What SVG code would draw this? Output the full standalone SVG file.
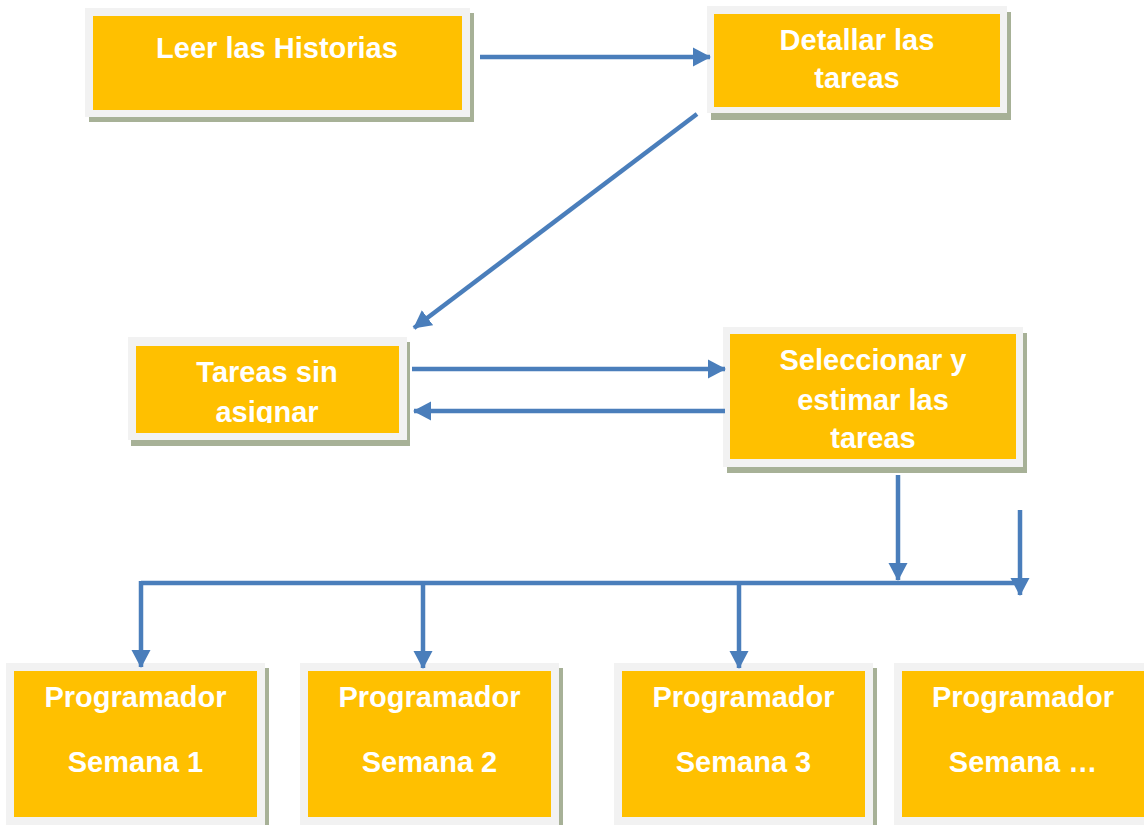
<svg xmlns="http://www.w3.org/2000/svg" width="1144" height="825" viewBox="0 0 1144 825">
<style>
.sh{fill:#A7B197}
.fr{fill:#F2F2F2}
.yl{fill:#FFC000}
.t{font-family:"Liberation Sans",Arial,sans-serif;font-weight:bold;font-size:29px;fill:#FFFFFF;text-anchor:middle}
.c{stroke:#4A7EBB;stroke-width:4.5;fill:none}
</style>
<defs>
<marker id="ah" markerUnits="userSpaceOnUse" markerWidth="20" markerHeight="20" refX="17" refY="10" orient="auto">
<path d="M0,0.5 L18,10 L0,19.5 z" fill="#4A7EBB"/>
</marker>
<clipPath id="clip3"><rect x="128" y="337" width="280" height="86"/></clipPath>
</defs>
<rect width="1144" height="825" fill="#FFFFFF"/>

<g id="leer">
<rect class="sh" x="89" y="13" width="385" height="109"/>
<rect class="fr" x="85" y="8" width="385" height="109"/>
<rect class="yl" x="93" y="16" width="369" height="94"/>
<text class="t" x="277" y="58">Leer las Historias</text>
</g>

<g id="detallar">
<rect class="sh" x="711" y="12" width="300" height="108"/>
<rect class="fr" x="707" y="6" width="300" height="107"/>
<rect class="yl" x="714" y="14" width="286" height="93"/>
<text class="t" x="857" y="50">Detallar las</text>
<text class="t" x="857" y="88">tareas</text>
</g>

<g id="tareas">
<rect class="sh" x="131" y="342" width="279" height="104"/>
<rect class="fr" x="128" y="337" width="279" height="103"/>
<rect class="yl" x="136" y="346" width="263" height="87"/>
<g clip-path="url(#clip3)">
<text class="t" x="267" y="382">Tareas sin</text>
<text class="t" x="267" y="422">asignar</text>
</g>
</g>

<g id="seleccionar">
<rect class="sh" x="727" y="333" width="300" height="140"/>
<rect class="fr" x="723" y="327" width="300" height="140"/>
<rect class="yl" x="730" y="334" width="286" height="125"/>
<text class="t" x="873" y="370">Seleccionar y</text>
<text class="t" x="873" y="410">estimar las</text>
<text class="t" x="873" y="448">tareas</text>
</g>

<g id="semana1">
<rect class="sh" x="10" y="668" width="259" height="170"/>
<rect class="fr" x="6" y="663" width="259" height="170"/>
<rect class="yl" x="14" y="671" width="243" height="146"/>
<text class="t" x="135.5" y="707">Programador</text>
<text class="t" x="135.5" y="772">Semana 1</text>
</g>

<g id="semana2">
<rect class="sh" x="304" y="668" width="259" height="170"/>
<rect class="fr" x="300" y="663" width="259" height="170"/>
<rect class="yl" x="308" y="671" width="243" height="146"/>
<text class="t" x="429.5" y="707">Programador</text>
<text class="t" x="429.5" y="772">Semana 2</text>
</g>

<g id="semana3">
<rect class="sh" x="618" y="668" width="259" height="170"/>
<rect class="fr" x="614" y="663" width="259" height="170"/>
<rect class="yl" x="622" y="671" width="243" height="146"/>
<text class="t" x="743.5" y="707">Programador</text>
<text class="t" x="743.5" y="772">Semana 3</text>
</g>

<g id="semanaN">
<rect class="fr" x="894" y="663" width="260" height="170"/>
<rect class="yl" x="902" y="671" width="242" height="146"/>
<text class="t" x="1023" y="707">Programador</text>
<text class="t" x="1023" y="772">Semana …</text>
</g>

<g id="connectors">
<line class="c" x1="480" y1="57" x2="710" y2="57" marker-end="url(#ah)"/>
<line class="c" x1="697" y1="114" x2="414" y2="328" marker-end="url(#ah)"/>
<line class="c" x1="412" y1="369" x2="725" y2="369" marker-end="url(#ah)"/>
<line class="c" x1="725" y1="411" x2="414" y2="411" marker-end="url(#ah)"/>
<line class="c" x1="898" y1="475" x2="898" y2="580" marker-end="url(#ah)"/>
<line class="c" x1="1020" y1="510" x2="1020" y2="595" marker-end="url(#ah)"/>
<polyline class="c" points="141,583 1020,583"/>
<line class="c" x1="141" y1="581" x2="141" y2="667" marker-end="url(#ah)"/>
<line class="c" x1="423" y1="583" x2="423" y2="668" marker-end="url(#ah)"/>
<line class="c" x1="739" y1="583" x2="739" y2="668" marker-end="url(#ah)"/>
</g>
</svg>
